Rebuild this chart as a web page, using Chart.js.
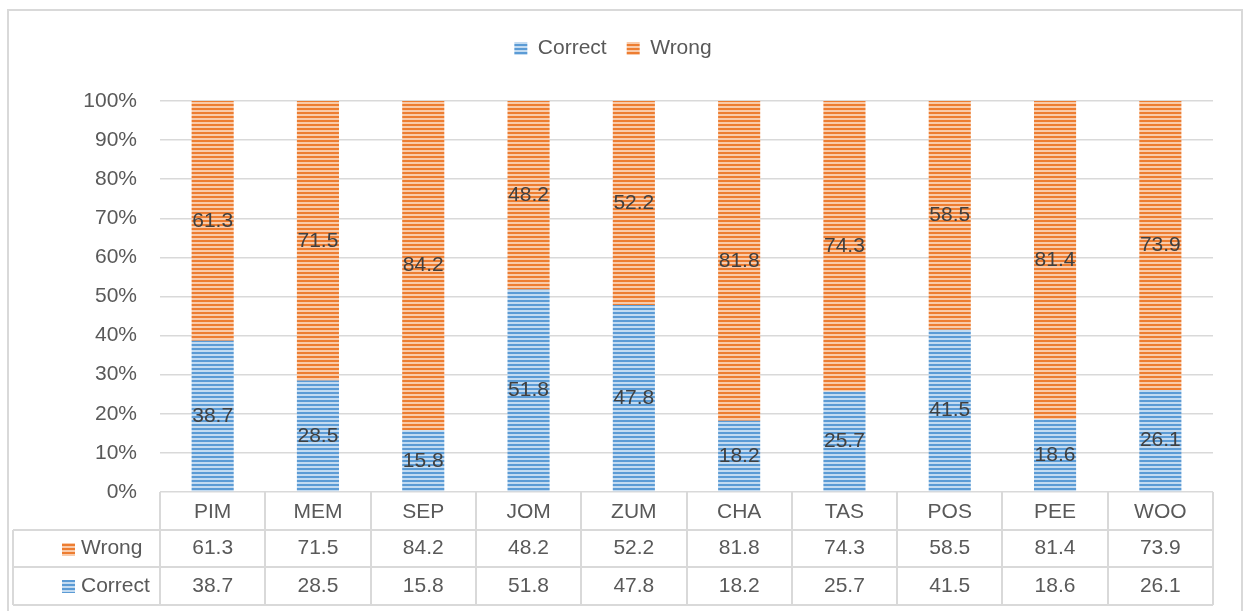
<!DOCTYPE html>
<html><head><meta charset="utf-8">
<script src="https://cdn.jsdelivr.net/npm/chart.js@4.4.0/dist/chart.umd.min.js"></script>
<style>html,body{margin:0;padding:0;background:#fff;}#wrap{position:relative;width:1245px;height:611px;}canvas{display:block}</style>
</head><body><div id="wrap"><canvas id="c" width="1245" height="611"></canvas></div>
<script>
const categories = ['PIM','MEM','SEP','JOM','ZUM','CHA','TAS','POS','PEE','WOO'];
const correctValues = [38.7,28.5,15.8,51.8,47.8,18.2,25.7,41.5,18.6,26.1];
const wrongValues = [61.3,71.5,84.2,48.2,52.2,81.8,74.3,58.5,81.4,73.9];
const seriesNames = ['Correct','Wrong'];
const yTickLabels = ['0%','10%','20%','30%','40%','50%','60%','70%','80%','90%','100%'];

const FONT = '"Liberation Sans", Arial, sans-serif';
const FS = 21;
const TXT = '#595959';
const LINE = '#D9D9D9';

function stripes(dark, light){
  const p = document.createElement('canvas');
  p.width = 4; p.height = 4;
  const g = p.getContext('2d');
  g.fillStyle = light; g.fillRect(0,0,4,4);
  g.fillStyle = dark; g.fillRect(0,0,4,2);
  return g.createPattern(p,'repeat');
}
const ctx = document.getElementById('c').getContext('2d');
const bluePat = stripes('#5B9BD5','#C3DBF1');
const orangePat = stripes('#ED7D31','#F9CBAA');

const legendSpace = {
  id:'legendSpace',
  afterInit(chart){
    const lg = chart.legend;
    if (!lg) return;
    const f = lg.fit;
    lg.fit = function(){ f.call(this); this.height += 32; };
  }
};

const barLabels = {
  id:'barLabels',
  afterDatasetsDraw(chart){
    const c = chart.ctx;
    c.save();
    c.font = FS + 'px ' + FONT;
    c.fillStyle = '#404040';
    c.textAlign = 'center';
    c.textBaseline = 'middle';
    chart.data.datasets.forEach((ds, di) => {
      chart.getDatasetMeta(di).data.forEach((el, i) => {
        c.fillText(ds.data[i].toFixed(1), el.x, (el.y + el.base)/2);
      });
    });
    c.restore();
  }
};

const dataTable = {
  id:'dataTable',
  afterDraw(chart){
    const c = chart.ctx;
    const a = chart.chartArea;
    const n = categories.length;
    const w = (a.right - a.left)/n;
    const top = a.bottom;
    const rowH = 37.7;
    const leftX = 13;
    c.save();
    c.strokeStyle = LINE;
    c.lineWidth = 2;
    c.beginPath();
    for (let r = 1; r <= 3; r++) {
      const y = Math.round(top + r*rowH);
      c.moveTo(leftX, y); c.lineTo(a.right, y);
    }
    for (let i = 0; i <= n; i++) {
      const x = Math.round(a.left + i*w);
      c.moveTo(x, top); c.lineTo(x, Math.round(top + 3*rowH));
    }
    c.moveTo(leftX, Math.round(top + rowH)); c.lineTo(leftX, Math.round(top + 3*rowH));
    c.stroke();
    c.strokeRect(8, 10, 1234, 620);

    c.font = FS + 'px ' + FONT;
    c.textBaseline = 'middle';
    const rows = [
      {name: seriesNames[1], vals: wrongValues, pat: orangePat},
      {name: seriesNames[0], vals: correctValues, pat: bluePat}
    ];
    rows.forEach((row, r) => {
      const yc = top + (r + 1.5)*rowH;
      c.fillStyle = row.pat;
      c.fillRect(62, Math.round(yc - 6), 13, 13);
      c.fillStyle = TXT;
      c.textAlign = 'left';
      c.fillText(row.name, 81, yc);
      c.textAlign = 'center';
      row.vals.forEach((v, i) => {
        c.fillText(v.toFixed(1), a.left + (i + 0.5)*w, yc);
      });
    });
    c.restore();
  }
};

new Chart(ctx, {
  type:'bar',
  data:{
    labels: categories,
    datasets:[
      {label: seriesNames[0], data: correctValues, backgroundColor: bluePat, borderWidth:0},
      {label: seriesNames[1], data: wrongValues, backgroundColor: orangePat, borderWidth:0}
    ]
  },
  options:{
    responsive:false,
    animation:false,
    devicePixelRatio:1,
    layout:{padding:{top:18, left:13, right:32, bottom:0}},
    datasets:{bar:{categoryPercentage:1, barPercentage:0.4}},
    plugins:{
      legend:{
        position:'top',
        labels:{boxWidth:13, boxHeight:13, padding:20, color:TXT, font:{family:FONT, size:FS}}
      },
      tooltip:{enabled:false}
    },
    scales:{
      x:{
        stacked:true,
        grid:{display:false, drawTicks:false},
        border:{display:false},
        ticks:{color:TXT, font:{family:FONT, size:FS}, padding:8},
        afterFit(s){ s.height = 119; }
      },
      y:{
        stacked:true,
        min:0, max:100,
        grid:{color:LINE, lineWidth:1.5, drawTicks:false},
        border:{display:false},
        ticks:{stepSize:10, color:TXT, font:{family:FONT, size:FS}, padding:23,
          callback:(v, i) => yTickLabels[i]},
        afterFit(s){ s.width = 147; }
      }
    }
  },
  plugins:[legendSpace, barLabels, dataTable]
});
</script>
</body></html>
